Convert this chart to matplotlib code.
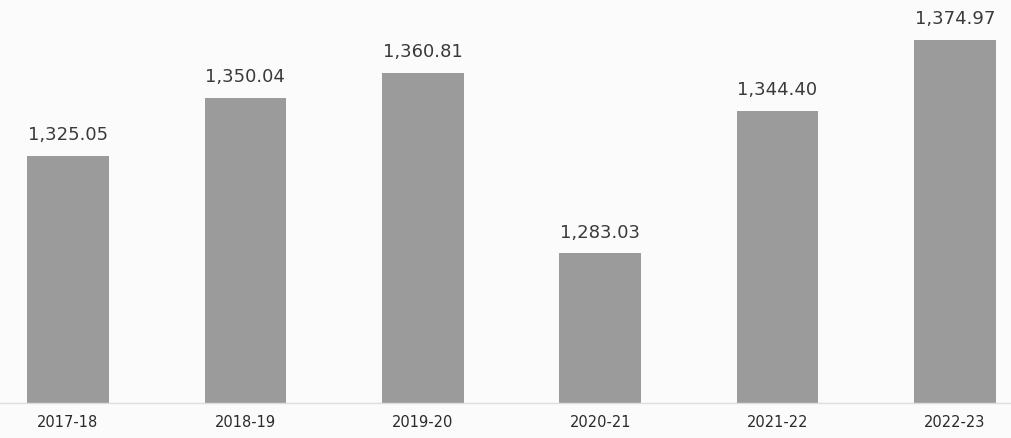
import numpy as np
import matplotlib
matplotlib.use("Agg")
import matplotlib.pyplot as plt

# Data
years = ["2017-18", "2018-19", "2019-20", "2020-21", "2021-22", "2022-23"]
values = [1325.05, 1350.04, 1360.81, 1283.03, 1344.40, 1374.97]

fig = plt.figure(figsize=(10.11, 4.39), dpi=100, facecolor="#fbfbfb")
ax = fig.add_axes([0, 0.08, 1, 0.92])
ax.set_facecolor("#fbfbfb")

x = np.arange(len(years))
bars = ax.bar(x, values, width=0.46, color="#9b9b9b")

# Value labels above bars
for b, v in zip(bars, values):
    ax.annotate(f"{v:,.2f}", (b.get_x() + b.get_width() / 2, v),
                xytext=(0, 9), textcoords="offset points",
                ha="center", va="bottom", fontsize=13, color="#3a3a3a")

ax.set_xlim(-0.383, 5.316)
ax.set_ylim(1218.5, 1392.5)

ax.set_xticks(x)
ax.set_xticklabels(years, fontsize=10.5, color="#2a2a2a")
ax.tick_params(axis="x", length=0, pad=8)
ax.set_yticks([])

for s in ["top", "left", "right"]:
    ax.spines[s].set_visible(False)
ax.spines["bottom"].set_color("#dddddd")
ax.spines["bottom"].set_linewidth(1)

fig.savefig("out.png", dpi=100, facecolor=fig.get_facecolor())
